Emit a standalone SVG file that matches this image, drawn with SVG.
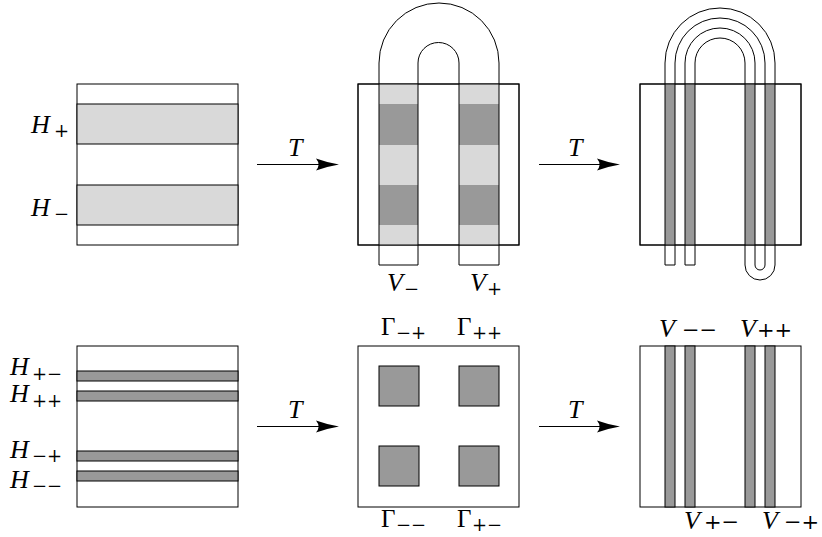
<svg xmlns="http://www.w3.org/2000/svg" width="822" height="537" viewBox="0 0 822 537">
<style>
.ln{fill:none;stroke:#000;stroke-width:1}
.lt{fill:#d9d9d9;stroke:none}
.dk{fill:#999999;stroke:none}
.dks{fill:#999999;stroke:#000;stroke-width:1}
.lts{fill:#d9d9d9;stroke:#000;stroke-width:1}
.sq{fill:#fff;stroke:#000;stroke-width:1}
text{fill:#000}
.it{font-family:'Liberation Serif',serif;font-style:italic;font-size:26px}
.up{font-family:'Liberation Serif',serif;font-size:25px}
.op{font-family:'DejaVu Serif',serif;font-size:18px}
.opb{font-family:'DejaVu Serif',serif;font-size:21px}
</style>
<rect width="822" height="537" fill="#fff"/>

<!-- Top-left: horizontal bands -->
<g id="top-left">
<rect class="sq" x="77" y="84" width="161" height="161"/>
<rect class="lts" x="77" y="104" width="161" height="40"/>
<rect class="lts" x="77" y="185" width="161" height="40"/>
<text class="it" x="31" y="133">H</text><text class="op" x="54" y="137">+</text>
<text class="it" x="31" y="216">H</text><text class="op" x="54" y="220">−</text>
</g>

<!-- Top-middle: horseshoe -->
<g id="top-middle">
<rect class="sq" x="358" y="84" width="161" height="161"/>
<rect class="lt" x="379" y="84" width="39" height="161"/>
<rect class="lt" x="459" y="84" width="40" height="161"/>
<rect class="dk" x="379" y="104" width="39" height="41"/>
<rect class="dk" x="379" y="185" width="39" height="40"/>
<rect class="dk" x="459" y="104" width="40" height="41"/>
<rect class="dk" x="459" y="185" width="40" height="40"/>
<rect class="ln" x="358" y="84" width="161" height="161"/>
<path class="ln" d="M379,265 V63 A60,60 0 0 1 499,63 V265 H459 V63 A20.5,20.5 0 0 0 418,63 V265 Z"/>
<text class="it" x="387" y="291">V</text><text class="op" x="404" y="295">−</text>
<text class="it" x="470" y="291">V</text><text class="op" x="487" y="295">+</text>
</g>

<!-- Top-right: double horseshoe -->
<g id="top-right">
<rect class="sq" x="640" y="84" width="161" height="161"/>
<rect class="dk" x="665" y="84" width="10" height="161"/>
<rect class="dk" x="685" y="84" width="10" height="161"/>
<rect class="dk" x="745" y="84" width="10" height="161"/>
<rect class="dk" x="765" y="84" width="10" height="161"/>
<rect class="ln" x="640" y="84" width="161" height="161"/>
<path class="ln" d="M665,265 V63 A55,55 0 0 1 775,63 V265 A15,15 0 0 1 745,265 V63 A25,25 0 0 0 695,63 V265 H685 V63 A35,35 0 0 1 755,63 V265 A5,5 0 0 0 765,265 V63 A45,45 0 0 0 675,63 V265 Z"/>
</g>

<!-- Bottom-left: thin horizontal bars -->
<g id="bottom-left">
<rect class="sq" x="77" y="346" width="161" height="161"/>
<rect class="dks" x="77" y="371" width="161" height="10"/>
<rect class="dks" x="77" y="391" width="161" height="10"/>
<rect class="dks" x="77" y="451" width="161" height="10"/>
<rect class="dks" x="77" y="471" width="161" height="10"/>
<text class="it" x="10" y="375">H</text><text class="op" x="32" y="380">+−</text>
<text class="it" x="10" y="402">H</text><text class="op" x="32" y="407">++</text>
<text class="it" x="10" y="458">H</text><text class="op" x="32" y="462">−+</text>
<text class="it" x="10" y="488">H</text><text class="op" x="32" y="492">−−</text>
</g>

<!-- Bottom-middle: four squares -->
<g id="bottom-middle">
<rect class="sq" x="358" y="346" width="161" height="161"/>
<rect class="dks" x="379" y="366" width="40" height="40"/>
<rect class="dks" x="459" y="366" width="40" height="40"/>
<rect class="dks" x="379" y="446" width="40" height="40"/>
<rect class="dks" x="459" y="446" width="40" height="40"/>
<text class="up" x="381" y="335">Γ</text><text class="op" x="396" y="339">−+</text>
<text class="up" x="457" y="335">Γ</text><text class="op" x="472" y="339">++</text>
<text class="up" x="381" y="527">Γ</text><text class="op" x="396" y="531">−−</text>
<text class="up" x="457" y="527">Γ</text><text class="op" x="472" y="531">+−</text>
</g>

<!-- Bottom-right: four vertical strips -->
<g id="bottom-right">
<rect class="sq" x="640" y="346" width="161" height="161"/>
<rect class="dks" x="665" y="346" width="10" height="161"/>
<rect class="dks" x="685" y="346" width="10" height="161"/>
<rect class="dks" x="745" y="346" width="10" height="161"/>
<rect class="dks" x="765" y="346" width="10" height="161"/>
<text class="it" x="659" y="337">V</text><text class="opb" x="682" y="337">−−</text>
<text class="it" x="740" y="337">V</text><text class="opb" x="757" y="337">++</text>
<text class="it" x="684" y="529">V</text><text class="opb" x="704" y="529">+−</text>
<text class="it" x="762" y="529">V</text><text class="opb" x="784" y="529">−+</text>
</g>

<!-- Connectors: arrows labelled T -->
<g id="connectors">
<line class="ln" x1="257" y1="164.5" x2="330" y2="164.5"/>
<path d="M339,164.5 Q327,162.5 316,158.5 Q321,164.5 316,170.5 Q327,166.5 339,164.5 Z" fill="#000"/>
<text class="it" x="288" y="156">T</text>
<line class="ln" x1="539" y1="164.5" x2="611" y2="164.5"/>
<path d="M620,164.5 Q608,162.5 597,158.5 Q602,164.5 597,170.5 Q608,166.5 620,164.5 Z" fill="#000"/>
<text class="it" x="568" y="156">T</text>
<line class="ln" x1="257" y1="426.5" x2="330" y2="426.5"/>
<path d="M339,426.5 Q327,424.5 316,420.5 Q321,426.5 316,432.5 Q327,428.5 339,426.5 Z" fill="#000"/>
<text class="it" x="288" y="418">T</text>
<line class="ln" x1="539" y1="426.5" x2="611" y2="426.5"/>
<path d="M620,426.5 Q608,424.5 597,420.5 Q602,426.5 597,432.5 Q608,428.5 620,426.5 Z" fill="#000"/>
<text class="it" x="568" y="418">T</text>
</g>
</svg>
